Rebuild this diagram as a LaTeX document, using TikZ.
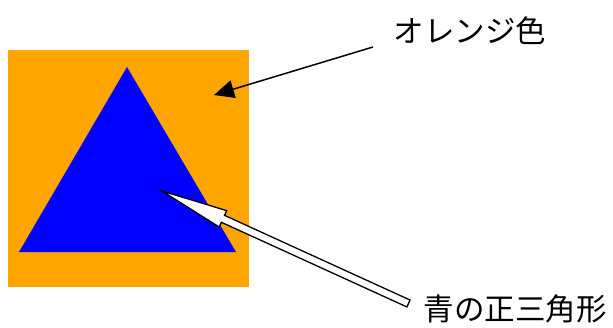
\documentclass[tikz,border=0pt]{standalone}
\usepackage{fontspec}
\newfontfamily\cjk{Noto Sans CJK JP}
\usetikzlibrary{calc,arrows.meta}
\definecolor{orangebg}{RGB}{255,165,0}
\definecolor{triblue}{RGB}{0,0,255}
\tikzset{
  label/.style={font=\cjk\fontsize{30.5}{30.5}\selectfont, inner sep=0pt, text=black},
  blackarrow/.style={line width=1.5pt, -{Triangle[length=20pt,width=18pt]}},
  hollowarrow/.style={fill=white, draw=black, line width=1.3pt, line join=miter}
}
\begin{document}
\begin{tikzpicture}[x=1pt,y=-1pt]
\useasboundingbox (0,0) rectangle (613,327);
% orange square
\fill[orangebg] (8,50) rectangle (249,287);
% blue triangle
\fill[triblue] (127,67) -- (236,252) -- (19,252) -- cycle;
% labels
\node[label] (orange) at (470,31) {オレンジ色};
\node[label] (tri) at (515,309) {青の正三角形};
% black arrow
\coordinate (oa) at (373,47);
\coordinate (ob) at (214,95);
\draw[blackarrow] (oa) -- (ob);
% hollow white arrow
\coordinate (wt) at (162,191);
\coordinate (wc) at (408.5,303.5);
\coordinate (wb) at ($(wt)!67pt!(wc)$);
\draw[hollowarrow] (wt) -- ($(wb)!9pt!90:(wc)$) -- ($(wb)!3.8pt!90:(wc)$)
  -- ($(wc)!3.8pt!-90:(wb)$) -- ($(wc)!3.8pt!90:(wb)$)
  -- ($(wb)!3.8pt!-90:(wc)$) -- ($(wb)!9pt!-90:(wc)$) -- cycle;
\end{tikzpicture}
\end{document}
